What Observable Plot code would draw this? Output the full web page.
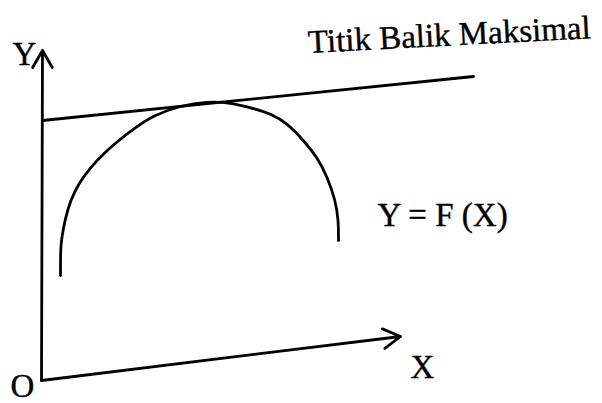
<!DOCTYPE html>
<html>
<head>
<meta charset="utf-8">
<script src="https://cdn.jsdelivr.net/npm/d3@7"></script>
<script src="https://cdn.jsdelivr.net/npm/@observablehq/plot@0.6"></script>
<style>
  html, body { margin: 0; padding: 0; background: #fff; }
</style>
</head>
<body>
<div id="chart"></div>
<script>
// Curve Y = F(X) (chart units: origin at O)
const curveX = [19, 19, 20, 24, 29, 37, 49, 62, 77, 94, 112, 139, 166, 189, 212, 229, 246, 262, 276, 286, 294, 297, 297];
const curveY = [105, 130, 142, 163, 180, 197, 213, 227, 240, 253, 265, 275, 279, 278, 272, 267, 257, 240, 223, 203, 180, 160, 140];

// Tangent line at the maximum turning point
const tangentX = [1, 432];
const tangentY = [260, 304];

// Axes (arrows)
const axisNames = ["Y", "X"];
const axisX1 = [0, 0];
const axisY1 = [0, 0];
const axisX2 = [1, 359];
const axisY2 = [330, 44];

// Labels
const labelTexts = ["Y", "O", "X", "Y = F (X)"];
const labelX = [-29, -31, 369, 336];
const labelY = [316, -16, 3, 155];

const titleText = ["Titik Balik Maksimal"];
const titleX = [267];
const titleY = [327.5];

const curve = curveX.map((x, i) => ({x, y: curveY[i]}));
const tangent = tangentX.map((x, i) => ({x, y: tangentY[i]}));
const axes = axisNames.map((n, i) => ({n, x1: axisX1[i], y1: axisY1[i], x2: axisX2[i], y2: axisY2[i]}));
const labels = labelTexts.map((t, i) => ({t, x: labelX[i], y: labelY[i]}));
const titles = titleText.map((t, i) => ({t, x: titleX[i], y: titleY[i]}));

const font = "'Liberation Serif', 'Times New Roman', serif";

const plot = Plot.plot({
  width: 602,
  height: 403,
  margin: 0,
  x: {domain: [-41, 561], axis: null},
  y: {domain: [-23, 380], axis: null},
  style: {background: "#fff"},
  marks: [
    Plot.arrow(axes, {x1: "x1", y1: "y1", x2: "x2", y2: "y2", stroke: "#000", strokeWidth: 2.8, headLength: 10.5, headAngle: 60, bend: false}),
    Plot.line(tangent, {x: "x", y: "y", stroke: "#000", strokeWidth: 2.8}),
    Plot.line(curve, {x: "x", y: "y", stroke: "#000", strokeWidth: 2.8, curve: "basis"}),
    Plot.text(labels, {x: "x", y: "y", text: "t", textAnchor: "start", lineAnchor: "bottom", fontSize: 33, fontFamily: font, fill: "#000", stroke: "#000", strokeWidth: 0.4}),
    Plot.text(titles, {x: "x", y: "y", text: "t", textAnchor: "start", lineAnchor: "bottom", fontSize: 33, fontFamily: font, fill: "#000", stroke: "#000", strokeWidth: 0.4, rotate: -3})
  ]
});
document.getElementById("chart").appendChild(plot);
</script>
</body>
</html>
